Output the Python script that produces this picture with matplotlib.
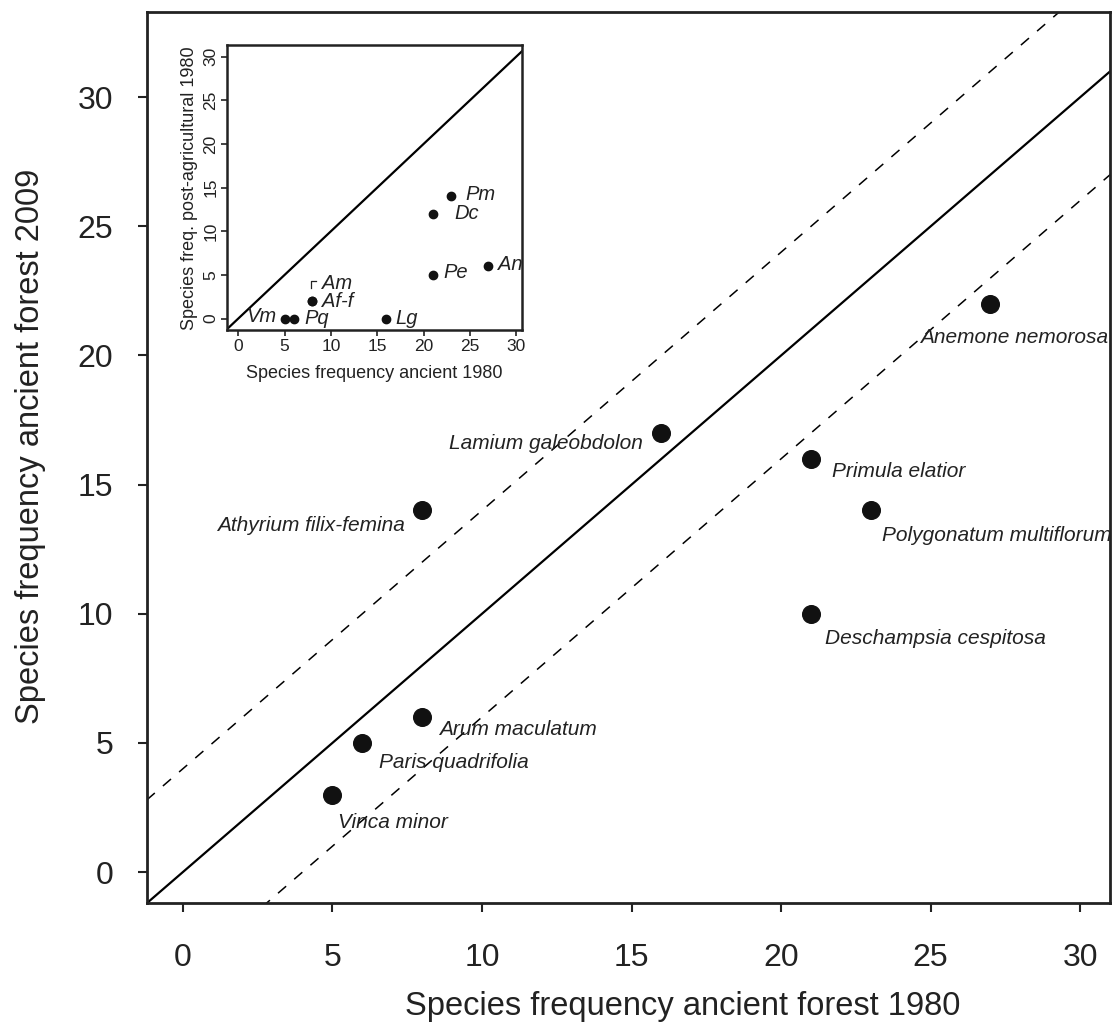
import matplotlib
matplotlib.use("Agg")
from matplotlib import pyplot as plt

plt.rcParams['font.family'] = ['Liberation Sans', 'DejaVu Sans']

# main panel: ancient forest 1980 vs 2009
species = ["Vinca minor", "Paris quadrifolia", "Arum maculatum", "Athyrium filix-femina",
           "Lamium galeobdolon", "Primula elatior", "Polygonatum multiflorum",
           "Deschampsia cespitosa", "Anemone nemorosa"]
freq_1980 = [5, 6, 8, 8, 16, 21, 23, 21, 27]
freq_2009 = [3, 5, 6, 14, 17, 16, 14, 10, 22]
# label offsets in pixels (dx, dy) and alignment
lab_off = [(6, -28), (17, -20), (17, -12), (-17, -15), (-19, -11),
           (21, -13), (11, -25), (14, -25), (24, -34)]
lab_ha = ["left", "left", "left", "right", "right", "left", "left", "left", "center"]

# inset: ancient 1980 vs post-agricultural 1980
abbr = ["Vm", "Pq", "Am", "Af-f", "Lg", "Pe", "Dc", "Pm", "An"]
ins_x = [5, 6, 8, 8, 16, 21, 21, 23, 27]
ins_y = [0, 0, 2, 2, 0, 5, 12, 14, 6]
ins_off = [(-8, 2), (11, 0), (10, 18), (10, 0), (9, 0), (11, 2), (22, 0), (14, 2), (10, 2)]
ins_ha = ["right", "left", "left", "left", "left", "left", "left", "left", "left"]

ticks = [0, 5, 10, 15, 20, 25, 30]
band = 4  # dashed lines at 1:1 +/- band

px = 0.72  # points per pixel at dpi 100

fig = plt.figure(figsize=(11.14, 10.32), dpi=100)
ax = fig.add_axes([0.132, 0.125, 0.8645, 0.8634])

xl = (-1.2, 31.0)
yl = (-1.2, 33.3)
ax.plot([-5, 40], [-5, 40], color='black', lw=1.6, zorder=1)
ax.plot([-5, 40], [-5 + band, 40 + band], color='black', lw=1.1, ls=(0, (7, 7)), zorder=1)
ax.plot([-5, 40], [-5 - band, 40 - band], color='black', lw=1.1, ls=(0, (7, 7)), zorder=1)
ax.plot(freq_1980, freq_2009, 'o', color='#111111', ms=12.7, zorder=3)
for s, x, y, o, ha in zip(species, freq_1980, freq_2009, lab_off, lab_ha):
    ax.annotate(s, (x, y), xytext=(o[0] * px, o[1] * px), textcoords='offset points',
                ha=ha, va='center', style='italic', fontsize=15, color='#222222',
                annotation_clip=False, zorder=4)
ax.set_xlim(*xl)
ax.set_ylim(*yl)
ax.set_xticks(ticks)
ax.set_yticks(ticks)
ax.tick_params(labelsize=23, length=6.5, width=1.5, color='#222222', labelcolor='#222222')
ax.tick_params(axis='y', pad=18)
ax.tick_params(axis='x', pad=22)
for sp in ax.spines.values():
    sp.set_linewidth(2)
    sp.set_color('#222222')
ax.set_xlabel("Species frequency ancient forest 1980", fontsize=23.5, color='#222222', va='center')
ax.set_ylabel("Species frequency ancient forest 2009", fontsize=23.5, color='#222222', va='center')
ax.xaxis.set_label_coords(0.5566, -0.1156)
ax.yaxis.set_label_coords(-0.1215, 0.512)

# inset
ins = fig.add_axes([0.2035, 0.680, 0.2648, 0.276])
ins.plot([-5, 40], [-5, 40], color='black', lw=1.6, zorder=1)
ins.plot(ins_x, ins_y, 'o', color='#111111', ms=6, zorder=3)
for s, x, y, o, ha in zip(abbr, ins_x, ins_y, ins_off, ins_ha):
    ins.annotate(s, (x, y), xytext=(o[0] * px, o[1] * px), textcoords='offset points',
                 ha=ha, va='center', style='italic', fontsize=14.5, color='#222222', zorder=4)
# little bracket pointing Am to its dot
ax_am = ins_x[abbr.index("Am")]
ay_am = ins_y[abbr.index("Am")]
ins.plot([ax_am - 0.1, ax_am - 0.1, ax_am + 0.35], [ay_am + 1.5, ay_am + 2.3, ay_am + 2.3],
         color='#222222', lw=0.9)
ins.set_xlim(-1.25, 30.6)
ins.set_ylim(-1.34, 31.3)
ins.set_xticks(ticks)
ins.set_yticks(ticks)
ins.tick_params(labelsize=12.5, length=4, width=1.2, pad=2, color='#222222', labelcolor='#222222')
for lab in ins.get_yticklabels():
    lab.set_rotation(90)
    lab.set_va('center')
for sp in ins.spines.values():
    sp.set_linewidth(1.8)
    sp.set_color('#222222')
ins.set_xlabel("Species frequency ancient 1980", fontsize=13, labelpad=8, color='#222222')
ins.set_ylabel("Species freq. post-agricultural 1980", fontsize=13, labelpad=4, color='#222222')

fig.savefig("out.png", dpi=100)
